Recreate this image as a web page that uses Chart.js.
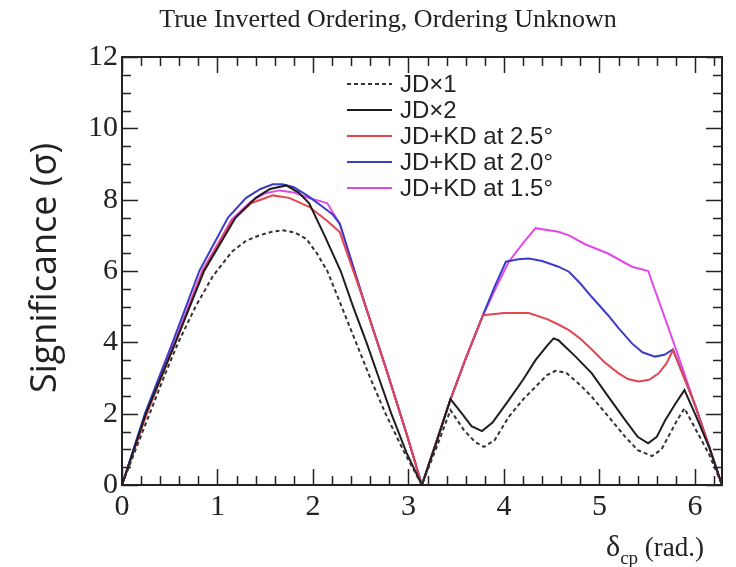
<!DOCTYPE html>
<html>
<head>
<meta charset="utf-8">
<script src="https://cdn.jsdelivr.net/npm/chart.js@4.4.0/dist/chart.umd.min.js"></script>
<style>
  html, body { margin: 0; padding: 0; background: #fff; }
</style>
</head>
<body>
<canvas id="chart" width="736" height="567"></canvas>
<script>
// values (delta_cp in rad, significance in sigma)
const jd1X = [0, 0.15, 0.29, 0.45, 0.59, 0.77, 0.95, 1.15, 1.3, 1.44, 1.57, 1.69, 1.81, 1.93, 2.04, 2.15, 2.3, 2.45, 2.6, 2.76, 2.95, 3.14,
  3.3, 3.44, 3.58, 3.7, 3.79, 3.9, 4.05, 4.2, 4.33, 4.45, 4.54, 4.65, 4.8, 4.92, 5.1, 5.27, 5.4, 5.55, 5.65, 5.72, 5.8, 5.89, 6.0, 6.15, 6.283];
const jd1Y = [0, 1.05, 2.0, 3.1, 4.0, 5.0, 5.85, 6.54, 6.85, 7.0, 7.1, 7.14, 7.08, 6.9, 6.5, 6.0, 5.0, 4.0, 3.0, 2.0, 0.95, 0,
  1.1, 2.1, 1.54, 1.2, 1.07, 1.25, 1.91, 2.4, 2.75, 3.08, 3.2, 3.15, 2.8, 2.47, 1.9, 1.35, 0.98, 0.81, 1.0, 1.35, 1.75, 2.15, 1.6, 0.85, 0];

const jd2X = [0, 0.25, 0.56, 0.86, 1.19, 1.4, 1.55, 1.72, 1.85, 1.96, 2.12, 2.29, 2.42, 2.56, 2.69, 2.82, 2.98, 3.14,
  3.3, 3.44, 3.56, 3.66, 3.77, 3.88, 4.05, 4.2, 4.33, 4.45, 4.52, 4.57, 4.75, 4.92, 5.1, 5.27, 5.4, 5.51, 5.6, 5.69, 5.8, 5.89, 6.0, 6.15, 6.283];
const jd2Y = [0, 2.0, 4.0, 6.0, 7.5, 8.05, 8.3, 8.4, 8.2, 7.9, 7.0, 6.0, 5.0, 4.0, 3.0, 2.0, 0.9, 0,
  1.25, 2.41, 2.0, 1.65, 1.51, 1.75, 2.38, 2.95, 3.5, 3.9, 4.11, 4.06, 3.6, 3.13, 2.45, 1.82, 1.35, 1.17, 1.35, 1.82, 2.3, 2.66, 2.0, 1.05, 0];

const kd25X = [0, 0.26, 0.56, 0.85, 1.15, 1.35, 1.58, 1.75, 1.96, 2.15, 2.28, 2.54, 2.77, 2.99, 3.14,
  3.44, 3.6, 3.78, 4.0, 4.26, 4.45, 4.57, 4.68, 4.8, 4.92, 5.05, 5.2, 5.3, 5.41, 5.52, 5.62, 5.7, 5.77, 6.0, 6.15, 6.283];
const kd25Y = [0, 2.0, 4.0, 6.0, 7.4, 7.9, 8.12, 8.05, 7.8, 7.4, 7.09, 5.1, 3.22, 1.35, 0,
  2.4, 3.55, 4.76, 4.82, 4.82, 4.65, 4.5, 4.34, 4.1, 3.8, 3.45, 3.13, 2.97, 2.9, 2.95, 3.13, 3.4, 3.78, 2.25, 1.06, 0];

const kd20X = [0, 0.24, 0.53, 0.81, 1.11, 1.3, 1.45, 1.58, 1.68, 1.8, 1.95, 2.1, 2.2, 2.28, 2.54, 2.77, 2.99, 3.14,
  3.44, 3.6, 3.78, 3.9, 4.02, 4.15, 4.26, 4.4, 4.57, 4.68, 4.8, 4.92, 5.09, 5.2, 5.34, 5.45, 5.58, 5.68, 5.77, 6.0, 6.15, 6.283];
const kd20Y = [0, 2.0, 4.0, 6.0, 7.5, 8.05, 8.3, 8.43, 8.43, 8.35, 8.1, 7.8, 7.6, 7.33, 5.1, 3.22, 1.35, 0,
  2.4, 3.55, 4.76, 5.55, 6.26, 6.33, 6.35, 6.28, 6.12, 5.98, 5.65, 5.27, 4.76, 4.4, 3.97, 3.72, 3.6, 3.65, 3.8, 2.25, 1.06, 0];

const kd15X = [0, 0.25, 0.55, 0.84, 1.15, 1.35, 1.5, 1.65, 1.8, 1.95, 2.05, 2.15, 2.28, 2.54, 2.77, 2.99, 3.14,
  3.44, 3.6, 3.78, 3.92, 4.05, 4.2, 4.33, 4.57, 4.68, 4.85, 5.09, 5.34, 5.51, 5.81, 6.0, 6.15, 6.283];
const kd15Y = [0, 2.0, 4.0, 6.0, 7.45, 7.95, 8.18, 8.26, 8.2, 8.05, 7.98, 7.9, 7.33, 5.1, 3.22, 1.35, 0,
  2.4, 3.55, 4.76, 5.55, 6.26, 6.78, 7.2, 7.1, 7.0, 6.75, 6.49, 6.12, 6.0, 3.74, 2.25, 1.06, 0];

const seriesLabels = ['JD\u00d71', 'JD\u00d72', 'JD+KD at 2.5\u00b0', 'JD+KD at 2.0\u00b0', 'JD+KD at 1.5\u00b0'];
const seriesColors = ['#333333', '#1e1e1e', '#e5454f', '#3c3cc8', '#e04ae6'];

const xMajorStep = 1, xMinorStep = 0.2, xMax = 2 * Math.PI;
const yMajorStep = 2, yMinorStep = 0.5, yMax = 12;

const zip = (xs, ys) => xs.map((x, i) => ({ x: x, y: ys[i] }));

const serif = '"Liberation Serif", "Times New Roman", serif';
const sans = '"Liberation Sans", Arial, sans-serif';

const rootFrame = {
  id: 'rootFrame',
  afterDatasetsDraw(chart) {
    const ctx = chart.ctx;
    const a = chart.chartArea;
    const xs = chart.scales.x, ys = chart.scales.y;
    ctx.save();
    ctx.strokeStyle = '#222';
    ctx.lineWidth = 1.5;
    ctx.beginPath();
    // ticks along x (bottom and top), pointing inward
    for (let v = 0; v <= xMax + 1e-6; v += xMinorStep) {
      const major = Math.abs(v - Math.round(v)) < 1e-6;
      const len = major ? 16 : 9;
      const px = Math.round(xs.getPixelForValue(v)) + 0.5;
      ctx.moveTo(px, a.bottom); ctx.lineTo(px, a.bottom - len);
      ctx.moveTo(px, a.top); ctx.lineTo(px, a.top + len);
    }
    // ticks along y (left and right)
    for (let v = 0; v <= yMax + 1e-6; v += yMinorStep) {
      const major = Math.abs(v / yMajorStep - Math.round(v / yMajorStep)) < 1e-6;
      const len = major ? 16 : 9;
      const py = Math.round(ys.getPixelForValue(v)) + 0.5;
      ctx.moveTo(a.left, py); ctx.lineTo(a.left + len, py);
      ctx.moveTo(a.right, py); ctx.lineTo(a.right - len, py);
    }
    ctx.stroke();
    ctx.lineWidth = 2;
    ctx.strokeRect(a.left, a.top, a.right - a.left, a.bottom - a.top);

    // legend
    const rows = [84, 110, 136, 162, 188];
    chart.data.datasets.forEach((ds, i) => {
      ctx.strokeStyle = ds.borderColor;
      ctx.lineWidth = 2;
      ctx.setLineDash(ds.borderDash || []);
      ctx.beginPath();
      ctx.moveTo(347, rows[i]); ctx.lineTo(392, rows[i]);
      ctx.stroke();
      ctx.setLineDash([]);
      ctx.fillStyle = '#222';
      ctx.font = '24px ' + sans;
      ctx.textBaseline = 'middle';
      ctx.textAlign = 'left';
      ctx.fillText(ds.label, 400, rows[i] + 1);
    });

    // title
    ctx.fillStyle = '#222';
    ctx.font = '26px ' + serif;
    ctx.textAlign = 'center';
    ctx.textBaseline = 'alphabetic';
    ctx.fillText('True Inverted Ordering, Ordering Unknown', 388, 27);

    // x title with subscript
    ctx.textAlign = 'left';
    ctx.font = '30px ' + serif;
    let x0 = 606;
    ctx.fillText('\u03b4', x0, 556);
    x0 += ctx.measureText('\u03b4').width;
    ctx.font = '19px ' + serif;
    ctx.fillText('cp', x0, 564);
    x0 += ctx.measureText('cp').width;
    ctx.font = '27px ' + serif;
    ctx.fillText(' (rad.)', x0, 556);

    // y title
    ctx.translate(46, 268);
    ctx.rotate(-Math.PI / 2);
    ctx.textAlign = 'center';
    ctx.textBaseline = 'middle';
    ctx.font = '36px "Open Sans", sans-serif';
    ctx.fillText('Significance (\u03c3)', 0, 0);
    ctx.restore();
  }
};

new Chart(document.getElementById('chart').getContext('2d'), {
  type: 'line',
  data: {
    datasets: [
      { label: seriesLabels[0], data: zip(jd1X, jd1Y), borderColor: seriesColors[0], borderDash: [4, 3] },
      { label: seriesLabels[1], data: zip(jd2X, jd2Y), borderColor: seriesColors[1] },
      { label: seriesLabels[2], data: zip(kd25X, kd25Y), borderColor: seriesColors[2] },
      { label: seriesLabels[3], data: zip(kd20X, kd20Y), borderColor: seriesColors[3] },
      { label: seriesLabels[4], data: zip(kd15X, kd15Y), borderColor: seriesColors[4] }
    ]
  },
  options: {
    responsive: false,
    animation: false,
    layout: { padding: { left: 0, top: 57, right: 14, bottom: 0 } },
    elements: {
      line: { borderWidth: 2, tension: 0, fill: false },
      point: { radius: 0 }
    },
    plugins: { legend: { display: false }, tooltip: { enabled: false }, title: { display: false } },
    scales: {
      x: {
        type: 'linear', min: 0, max: xMax,
        grid: { display: false, drawTicks: false }, border: { display: false },
        ticks: { stepSize: xMajorStep, includeBounds: false, padding: 4, color: '#222', font: { family: serif, size: 30 } },
        afterFit(s) { s.height = 82; }
      },
      y: {
        type: 'linear', min: 0, max: yMax,
        grid: { display: false, drawTicks: false }, border: { display: false },
        ticks: { stepSize: yMajorStep, padding: 4, color: '#222', font: { family: serif, size: 30 } },
        afterFit(s) { s.width = 122; }
      }
    }
  },
  plugins: [rootFrame]
});
</script>
</body>
</html>
